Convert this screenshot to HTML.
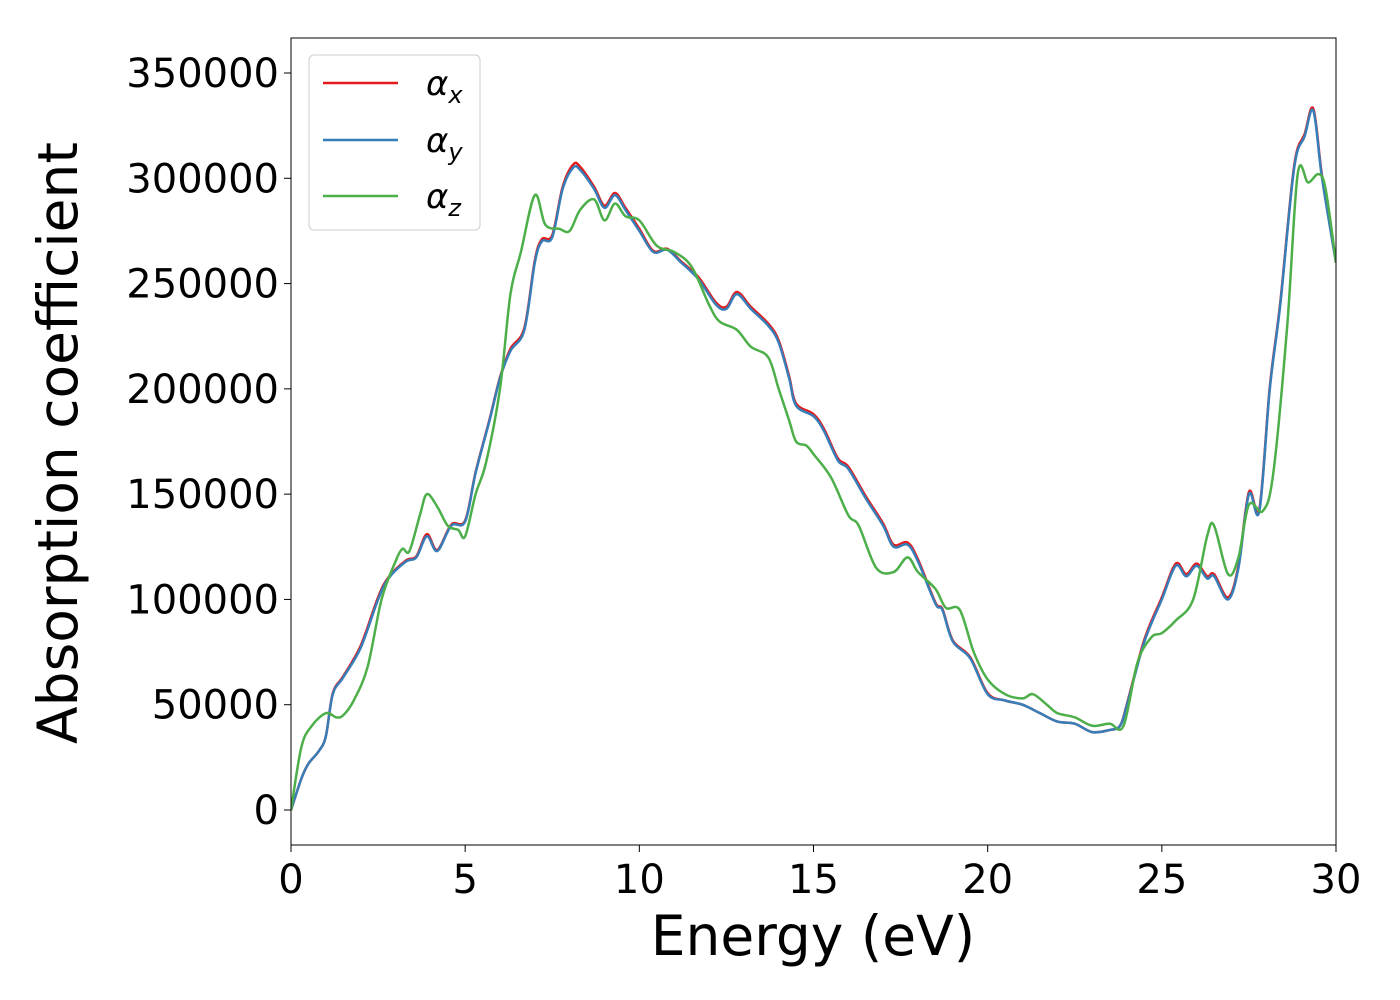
<!DOCTYPE html>
<html><head><meta charset="utf-8"><style>
body{margin:0;background:#fff;}
svg{display:block;font-family:"DejaVu Sans","Liberation Sans",sans-serif;}
</style></head><body>
<svg id="chart" width="1400" height="1000">
<g id="plot"></g>
</svg>
<script>
const blueE=[0,0.3,0.5,0.8,1.0,1.2,1.5,2.0,2.5,2.8,3.3,3.6,3.9,4.2,4.6,5.0,5.3,5.7,6.0,6.3,6.7,7.0,7.2,7.5,7.8,8.1,8.3,8.7,9.0,9.3,9.6,10.0,10.4,10.8,11.2,11.7,12.2,12.5,12.8,13.2,13.7,14.0,14.3,14.5,15.0,15.3,15.7,16.0,16.5,17.0,17.3,17.7,18.0,18.5,18.7,19.0,19.5,20.0,20.5,21.0,21.5,22.0,22.5,23.0,23.5,23.8,24.0,24.5,25.0,25.4,25.7,26.0,26.3,26.5,26.9,27.2,27.5,27.8,28.1,28.4,28.8,29.1,29.35,29.6,30];
const alphaY=[0,15000,22000,28000,35000,55000,63000,77000,100000,110000,118000,120000,130000,123000,135000,137000,160000,185000,205000,218000,228000,260000,270000,272000,295000,305000,304000,295000,286000,292000,285000,275000,265000,266000,260000,252000,240000,238000,245000,238000,230000,222000,205000,192000,187000,180000,166000,162000,148000,135000,125000,126000,118000,98000,95000,80000,72000,55000,52000,50000,46000,42000,41000,37000,38000,40000,50000,80000,100000,116000,111000,116000,110000,111000,100000,115000,150000,142000,200000,240000,305000,320000,332000,300000,260000];
const alphaX=[0,15000,22000,28000,35000,55500,63500,78000,101000,110500,118500,120500,131000,123500,135500,137500,160500,185500,205500,219000,229000,261000,271000,273000,296000,306500,305500,296000,287000,293000,286000,276000,265500,266500,260500,253000,241000,239000,246000,239000,231000,223000,206000,193000,188000,181000,167000,163000,149000,136000,126000,127000,119000,98500,95500,80500,72500,55500,52000,50000,46000,42000,41000,37000,38000,40000,50500,81000,101000,117000,112000,117000,111000,112000,101000,116000,151000,143000,201000,241000,306000,321000,333000,301000,260000];
const greenE=[0,0.3,0.6,1.0,1.3,1.5,1.8,2.2,2.6,3.0,3.2,3.4,3.7,3.9,4.2,4.5,4.8,5.0,5.3,5.6,6.0,6.3,6.6,7.0,7.3,7.7,8.0,8.3,8.7,9.0,9.3,9.6,10.0,10.5,11.0,11.5,12.0,12.3,12.8,13.2,13.7,14.0,14.3,14.5,14.8,15.0,15.5,16.0,16.3,16.8,17.3,17.7,18.0,18.5,18.8,19.2,19.6,20.0,20.5,21.0,21.3,21.7,22.0,22.5,23.0,23.5,23.9,24.3,24.7,25.0,25.4,25.9,26.3,26.5,26.9,27.2,27.5,27.9,28.2,28.6,28.9,29.2,29.5,29.7,30];
const alphaZ=[0,30000,40000,46000,44000,45000,52000,68000,100000,118000,124000,123000,140000,150000,144000,135000,133000,130000,150000,165000,200000,245000,265000,292000,278000,276000,275000,285000,290000,280000,288000,282000,280000,268000,265000,258000,240000,232000,228000,220000,215000,200000,185000,175000,173000,169000,158000,140000,135000,115000,113000,120000,113000,105000,96000,95000,75000,62000,55000,53000,55000,50000,46000,44000,40000,41000,40000,70000,82000,84000,90000,100000,130000,135000,112000,120000,145000,142000,160000,230000,302000,298000,302000,295000,260000];
const xTicks=[0,5,10,15,20,25,30];
const yTicks=[0,50000,100000,150000,200000,250000,300000,350000];
const L=291,R=1336,T=38,B=845;
const sx=v=>L+(v/30)*(R-L);
const sy=v=>810-(v/350000)*737;
const NS="http://www.w3.org/2000/svg";
const svg=document.getElementById('chart');
function mk(tag,attrs,parent){const e=document.createElementNS(NS,tag);for(const k in attrs)e.setAttribute(k,attrs[k]);(parent||svg).appendChild(e);return e;}
function pathD(xs,ys){
  const p=xs.map((x,i)=>[sx(x),sy(ys[i])]);
  let d=`M${p[0][0]},${p[0][1]}`;
  for(let i=0;i<p.length-1;i++){
    const p0=p[Math.max(0,i-1)],p1=p[i],p2=p[i+1],p3=p[Math.min(p.length-1,i+2)];
    const c1=[p1[0]+(p2[0]-p0[0])/6,p1[1]+(p2[1]-p0[1])/6];
    const c2=[p2[0]-(p3[0]-p1[0])/6,p2[1]-(p3[1]-p1[1])/6];
    d+=`C${c1[0]},${c1[1]} ${c2[0]},${c2[1]} ${p2[0]},${p2[1]}`;
  }
  return d;
}
mk('defs',{}).innerHTML='<clipPath id="clip"><rect x="291" y="38" width="1045" height="807"/></clipPath>';
const g=mk('g',{'clip-path':'url(#clip)'});
let e;
e=mk('path',{d:pathD(blueE,alphaX),fill:'none',stroke:'#e41a1c','stroke-width':2.5},g);


e=mk('path',{d:pathD(blueE,alphaY),fill:'none',stroke:'#377eb8','stroke-width':2.5},g);


e=mk('path',{d:pathD(greenE,alphaZ),fill:'none',stroke:'#4daf4a','stroke-width':2.5},g);


e=mk('rect',{x:L,y:T,width:R-L,height:B-T,fill:'none',stroke:'#000','stroke-width':1});


xTicks.forEach(v=>{
  const x=sx(v);
  mk('line',{x1:x,x2:x,y1:B,y2:B+7,stroke:'#000','stroke-width':1});
  const t=mk('text',{x:x,y:893,'font-size':40,'text-anchor':'middle'});t.textContent=v;
  
  
});
yTicks.forEach(v=>{
  const y=sy(v);
  mk('line',{x1:L-7,x2:L,y1:y,y2:y,stroke:'#000','stroke-width':1});
  const t=mk('text',{x:279,y:y+14,'font-size':40,'text-anchor':'end'});t.textContent=v;
  
  
});
e=mk('text',{x:813,y:955,'font-size':55,'text-anchor':'middle'});e.textContent='Energy (eV)';


e=mk('text',{x:0,y:0,'font-size':55,'text-anchor':'middle',transform:'translate(77,443) rotate(-90)'});e.textContent='Absorption coefficient';


const lg=mk('g',{});


mk('rect',{x:309,y:55,width:171,height:175,rx:5,fill:'#fff',stroke:'#ccc','stroke-width':1},lg);
const legItems=[['#e41a1c','x',83],['#377eb8','y',140],['#4daf4a','z',196]];
legItems.forEach(([c,s,y])=>{
  mk('line',{x1:323,x2:398,y1:y,y2:y,stroke:c,'stroke-width':2.5},lg);
  const t=mk('text',{x:426,y:y+12,'font-size':34,'font-style':'italic'},lg);
  t.innerHTML='α<tspan font-size="24" dy="8">'+s+'</tspan>';
  
  
});
</script>
</body></html>
